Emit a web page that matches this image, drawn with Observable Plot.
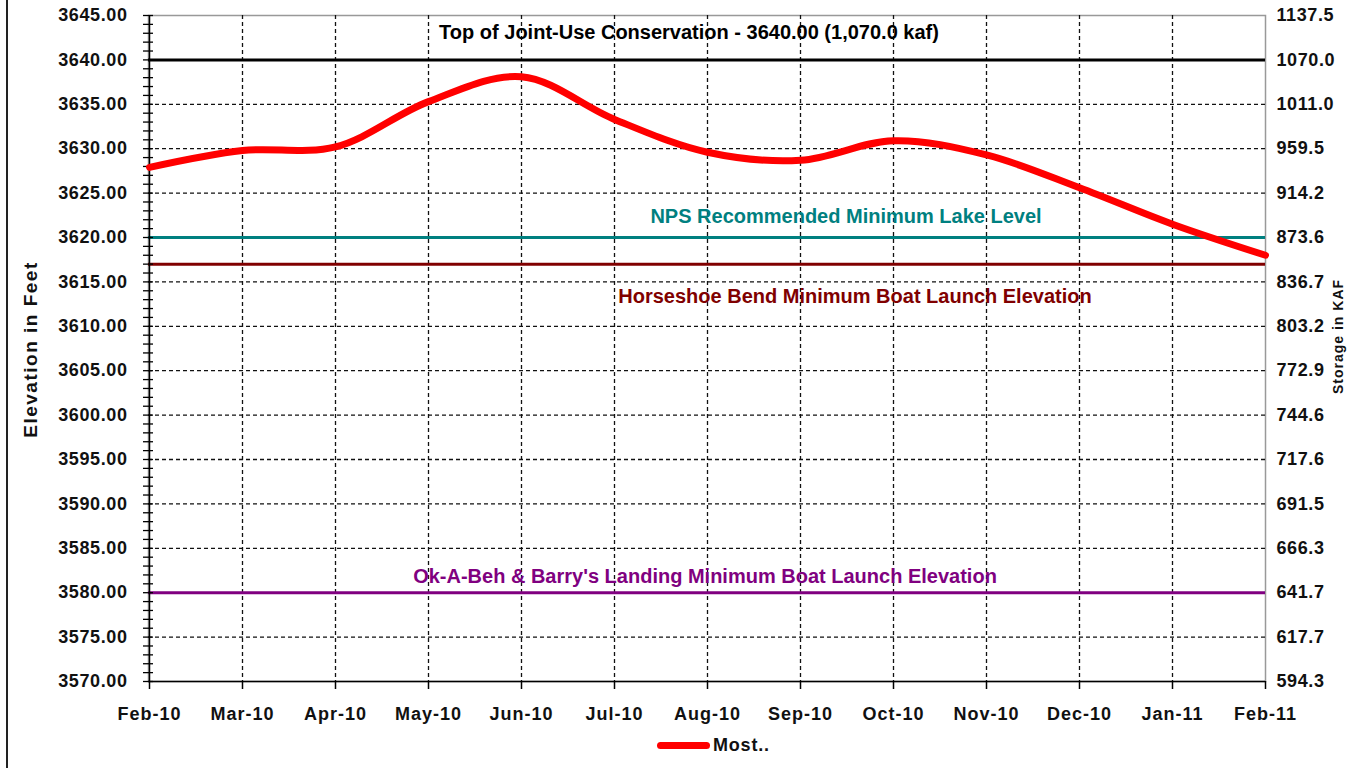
<!DOCTYPE html>
<html>
<head>
<meta charset="utf-8">
<script src="https://cdn.jsdelivr.net/npm/d3@7"></script>
<script src="https://cdn.jsdelivr.net/npm/@observablehq/plot@0.6"></script>
<style>
  html, body { margin: 0; padding: 0; background: #fff; }
  #wrap { position: relative; width: 1363px; height: 768px; overflow: hidden; font-family: "Liberation Sans", Arial, sans-serif; }
  #border { position: absolute; left: 6px; top: 0; width: 0; height: 768px; border-left: 2px solid #222; }
  #legend { position: absolute; left: 0; top: 725px; width: 1363px; height: 43px; }
  #legend .sw { position: absolute; left: 657px; top: 17px; width: 53px; height: 7px; background: #ff0000; border-radius: 3.5px; }
  #legend .lb { position: absolute; left: 713px; top: 10px; font-weight: bold; font-size: 18px; letter-spacing: 0.8px; color: #111; }
  g[aria-label="y-axis tick label"] text { letter-spacing: 0.6px; }
  g[aria-label="x-axis tick label"] text { letter-spacing: 1px; }
</style>
</head>
<body>
<div id="wrap">
  <div id="chart"></div>
  <div id="border"></div>
  <div id="legend"><div class="sw"></div><div class="lb" id="legendLabel"></div></div>
</div>
<script>
// ---- data ----
const months = ["Feb-10","Mar-10","Apr-10","May-10","Jun-10","Jul-10","Aug-10","Sep-10","Oct-10","Nov-10","Dec-10","Jan-11","Feb-11"];
const elevation = [3627.9, 3629.8, 3630.2, 3635.3, 3638.1, 3633.3, 3629.6, 3628.7, 3630.9, 3629.3, 3625.6, 3621.5, 3618.0];

const elevTicks = [3570,3575,3580,3585,3590,3595,3600,3605,3610,3615,3620,3625,3630,3635,3640,3645];
const storageLabels = ["594.3","617.7","641.7","666.3","691.5","717.6","744.6","772.9","803.2","836.7","873.6","914.2","959.5","1011.0","1070.0","1137.5"];
const minorTicks = d3.range(3570, 3646, 1);

const refNames = ["Top of Joint-Use Conservation - 3640.00 (1,070.0 kaf)", "NPS Recommended Minimum Lake Level", "Horseshoe Bend Minimum Boat Launch Elevation", "Ok-A-Beh & Barry's Landing Minimum Boat Launch Elevation"];
const refElev = [3640, 3620, 3617, 3580];
const refColors = ["#000000", "#008080", "#800000", "#800080"];

const seriesName = "Most..";
const yTitle = "Elevation in Feet";
const y2Title = "Storage in KAF";

// ---- build ----
const storageByElev = new Map(elevTicks.map((e, i) => [e, storageLabels[i]]));
const series = months.map((m, i) => ({month: m, elev: elevation[i]}));
const refs = refElev.map((e, i) => ({name: refNames[i], elev: e, color: refColors[i]}));
const labelOffsets = [ {dx: -18, dy: -27}, {dx: 139, dy: -21}, {dx: 148, dy: 32}, {dx: -2, dy: -16} ];

const font = "'Liberation Sans', Arial, sans-serif";

const chart = Plot.plot({
  width: 1363,
  height: 725,
  marginLeft: 148,
  marginRight: 98,
  marginTop: 15,
  marginBottom: 44,
  style: {fontFamily: font, background: "transparent", overflow: "visible", color: "#111"},
  x: {type: "point", domain: months, padding: 0},
  y: {domain: [3570, 3645]},
  marks: [
    Plot.frame({stroke: "#999", strokeWidth: 1.5}),
    Plot.ruleY(elevTicks.slice(1, -1), {stroke: "#111", strokeWidth: 1.3, strokeDasharray: "4,3"}),
    Plot.ruleX(months.slice(1, -1), {stroke: "#111", strokeWidth: 1.3, strokeDasharray: "4,3"}),
    ...refs.map(r => Plot.ruleY([r.elev], {stroke: r.color, strokeWidth: 3})),
    Plot.ruleX([months[0]], {stroke: "#000", strokeWidth: 1.5}),
    Plot.ruleY([3570], {stroke: "#000", strokeWidth: 1.5}),
    Plot.axisY(minorTicks, {anchor: "left", tickSize: 10, dx: 5, tickFormat: () => "", stroke: "#000", strokeWidth: 1.3, label: null}),
    Plot.axisY(elevTicks, {anchor: "left", tickSize: 0, tickPadding: 21, tickFormat: d => d.toFixed(2), fontSize: 18, fontWeight: "bold", label: null}),
    Plot.axisY(elevTicks, {anchor: "right", tickSize: 0, tickPadding: 11, tickFormat: d => storageByElev.get(d), fontSize: 18, fontWeight: "bold", label: null}),
    Plot.axisX({anchor: "bottom", tickSize: 8, tickPadding: 18, fontSize: 18, fontWeight: "bold", stroke: "#000", strokeWidth: 1.5, label: null}),
    Plot.line(series, {x: "month", y: "elev", curve: "catmull-rom", stroke: "#ff0000", strokeWidth: 7}),
    ...refs.map((r, i) => Plot.text([r], {y: "elev", frameAnchor: "middle", text: "name", fill: r.color, fontSize: 20, fontWeight: "bold", dx: labelOffsets[i].dx, dy: labelOffsets[i].dy})),
    Plot.text([yTitle], {frameAnchor: "left", textAnchor: "middle", rotate: -90, dx: -118, dy: 1, text: d => d, fontSize: 19, fontWeight: "bold", fill: "#111"}),
    Plot.text([y2Title], {frameAnchor: "right", textAnchor: "middle", rotate: -90, dx: 73, dy: -12, text: d => d, fontSize: 14, fontWeight: "bold", fill: "#111"})
  ]
});
document.getElementById("chart").appendChild(chart);
d3.select(chart).selectAll("text").filter(function() { return this.textContent === yTitle; }).style("letter-spacing", "1.5px");
d3.select(chart).selectAll("text").filter(function() { return this.textContent === y2Title; }).style("letter-spacing", "1px");
document.getElementById("legendLabel").textContent = seriesName;
</script>
</body>
</html>
